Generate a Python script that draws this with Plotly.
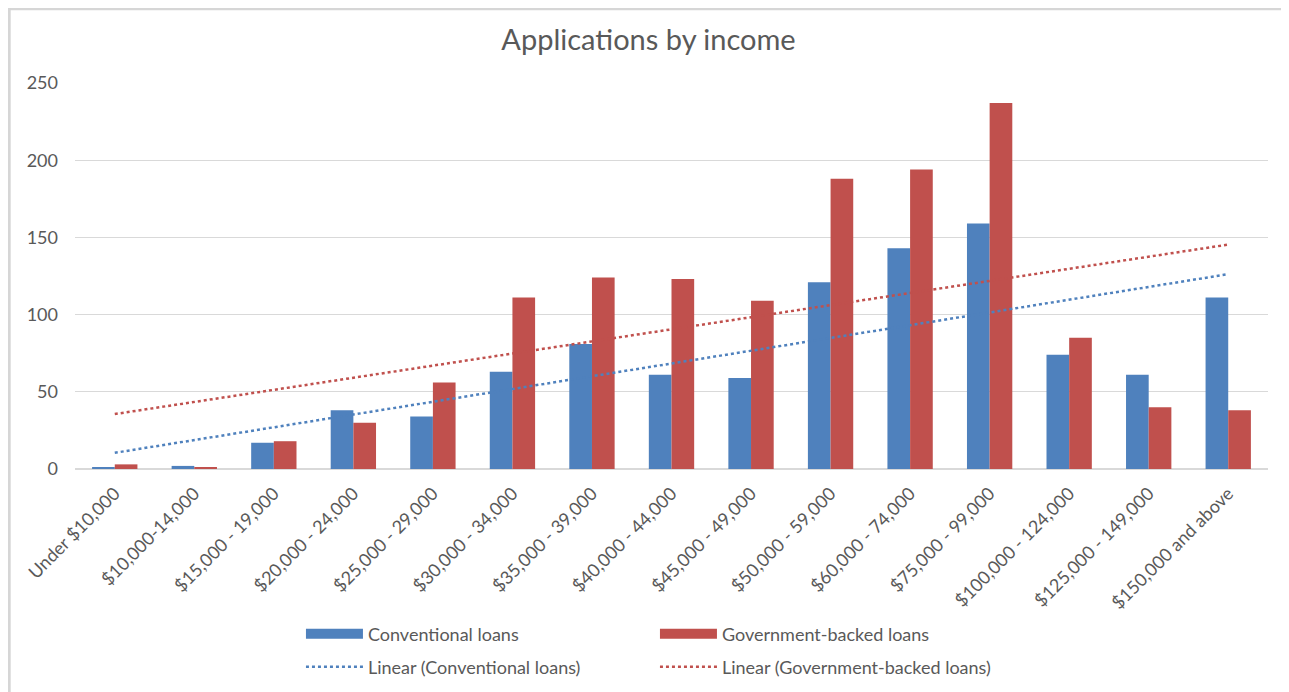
import numpy as np
import plotly.graph_objects as go

categories = ["Under $10,000", "$10,000-14,000", "$15,000 - 19,000", "$20,000 - 24,000",
              "$25,000 - 29,000", "$30,000 - 34,000", "$35,000 - 39,000", "$40,000 - 44,000",
              "$45,000 - 49,000", "$50,000 - 59,000", "$60,000 - 74,000", "$75,000 - 99,000",
              "$100,000 - 124,000", "$125,000 - 149,000", "$150,000 and above"]
conventional = [1, 2, 17, 38, 34, 63, 81, 61, 59, 121, 143, 159, 74, 61, 111]
government = [3, 1, 18, 30, 56, 111, 124, 123, 109, 188, 194, 237, 85, 40, 38]
y_ticks = [0, 50, 100, 150, 200, 250]

C_BLUE = "#4F81BD"
C_RED = "#C0504D"
FONT = "Lato"
TXT = "#595959"

idx = np.arange(1, len(categories) + 1)
def trend(vals):
    m, b = np.polyfit(idx, np.array(vals, dtype=float), 1)
    return (m * idx + b).tolist()

W, H = 1281, 684
L, R, T, B = 67, 21, 75, 223
PW, PH = W - L - R, H - T - B

fig = go.Figure()
fig.add_trace(go.Bar(x=categories, y=conventional, name="Conventional loans",
                     marker=dict(color=C_BLUE, line=dict(width=0)), showlegend=False))
fig.add_trace(go.Bar(x=categories, y=government, name="Government-backed loans",
                     marker=dict(color=C_RED, line=dict(width=0)), showlegend=False))
fig.add_trace(go.Scatter(x=categories, y=trend(conventional), mode="lines",
                         name="Linear (Conventional loans)", showlegend=False,
                         line=dict(color=C_BLUE, dash="dot", width=2.5)))
fig.add_trace(go.Scatter(x=categories, y=trend(government), mode="lines",
                         name="Linear (Government-backed loans)", showlegend=False,
                         line=dict(color=C_RED, dash="dot", width=2.5)))
# legend-only entries (wide swatches like the original)
fig.add_trace(go.Scatter(x=[categories[0]], y=[None], mode="lines", name="Conventional loans",
                         line=dict(color=C_BLUE, width=12), legend="legend", hoverinfo="skip"))
fig.add_trace(go.Scatter(x=[categories[0]], y=[None], mode="lines", name="Government-backed loans",
                         line=dict(color=C_RED, width=12), legend="legend", hoverinfo="skip"))
fig.add_trace(go.Scatter(x=[categories[0]], y=[None], mode="lines", name="Linear (Conventional loans)",
                         line=dict(color=C_BLUE, dash="dot", width=2.5), legend="legend2", hoverinfo="skip"))
fig.add_trace(go.Scatter(x=[categories[0]], y=[None], mode="lines", name="Linear (Government-backed loans)",
                         line=dict(color=C_RED, dash="dot", width=2.5), legend="legend2", hoverinfo="skip"))

leg_common = dict(orientation="h", x=0.1894, xanchor="left", yanchor="middle",
                  entrywidth=282, entrywidthmode="pixels", itemwidth=57,
                  font=dict(size=18, color=TXT), bgcolor="rgba(0,0,0,0)")
fig.update_layout(
    width=W, height=H,
    margin=dict(l=L, r=R, t=T, b=B, autoexpand=False),
    paper_bgcolor="white", plot_bgcolor="white",
    font=dict(family=FONT, color=TXT, size=16),
    title=dict(text="Applications by income", x=0.5, xanchor="center", y=1 - 32 / H, yanchor="middle",
               font=dict(family=FONT, size=29, color=TXT)),
    barmode="group", bargap=0.43, bargroupgap=0,
    showlegend=True,
    legend=dict(y=-165 / PH, **leg_common),
    legend2=dict(y=-198 / PH, **leg_common),
)
fig.update_xaxes(type="category", tickangle=-45, showgrid=False, showline=True,
                 linecolor="#D9D9D9", linewidth=1, ticks="", ticklabelstandoff=6,
                 automargin=False,
                 tickfont=dict(family=FONT, size=18, color=TXT))
fig.update_yaxes(range=[0, 250], tickvals=y_ticks, showgrid=True, gridcolor="#D9D9D9",
                 zeroline=True, zerolinecolor="#D9D9D9", showline=False, ticks="",
                 ticklabelstandoff=16, automargin=False,
                 tickfont=dict(family=FONT, size=18, color=TXT))
# light frame on top and left edges
fig.add_shape(type="line", xref="paper", yref="paper", x0=-L / PW, x1=1 + R / PW,
              y0=1 + T / PH - 0.002, y1=1 + T / PH - 0.002,
              line=dict(color="#D6D6D6", width=3), layer="below")
fig.add_shape(type="line", xref="paper", yref="paper", x0=-L / PW + 0.001, x1=-L / PW + 0.001,
              y0=-B / PH, y1=1 + T / PH,
              line=dict(color="#D6D6D6", width=3), layer="below")
fig.write_html("out.html")
